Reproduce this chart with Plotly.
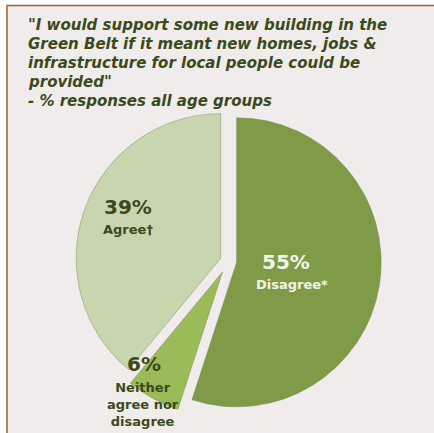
import plotly.graph_objects as go

# ---- data ----
categories = ["Disagree*", "Neither agree nor disagree", "Agree†"]
values = [55, 6, 39]
label_lines = [["Disagree*"], ["Neither", "agree nor", "disagree"], ["Agree†"]]
title_lines = [
    "\"I would support some new building in the",
    "Green Belt if it meant new homes, jobs &",
    "infrastructure for local people could be",
    "provided\"",
    "- % responses all age groups",
]

# ---- styles ----
colors = ["#7f9b48", "#9bbb59", "#c8d6af"]
pulls = [0.057, 0.085, 0.057]
W, H = 434, 433
BG = "#f0ecec"
DARK = "#3b4a1b"

def px(x):
    return x / W

def py(y):
    return 1 - y / H

fig = go.Figure()
fig.add_trace(go.Pie(
    labels=categories,
    values=values,
    sort=False,
    direction="clockwise",
    rotation=0,
    pull=pulls,
    marker=dict(colors=colors, line=dict(color="rgba(110,130,80,0.55)", width=0.8)),
    textinfo="none",
    hoverinfo="label+percent",
    showlegend=False,
    domain=dict(x=[0.1651, 0.8879], y=[0.0338, 0.7606]),
))

annotations = []
# title lines
title_y = [25, 44, 63, 82, 101.5]
for t, yy in zip(title_lines, title_y):
    annotations.append(dict(
        x=px(26), y=py(yy), xref="paper", yref="paper", xanchor="left", yanchor="middle",
        text="<b><i>" + t + "</i></b>", showarrow=False,
        font=dict(family="DejaVu Sans", size=15, color=DARK),
    ))

# slice labels (positions in px)
pct_pos = [(286, 262), (143.5, 364), (128, 207)]
name_pos = [(292, 284), (143, 404), (128, 230)]
txt_colors = ["#f2f2ea", DARK, DARK]
for i in range(len(values)):
    annotations.append(dict(
        x=px(pct_pos[i][0]), y=py(pct_pos[i][1]), xref="paper", yref="paper",
        xanchor="center", yanchor="middle", showarrow=False,
        text="<b>%d%%</b>" % values[i],
        font=dict(family="DejaVu Sans", size=20, color=txt_colors[i]),
    ))
    annotations.append(dict(
        x=px(name_pos[i][0]), y=py(name_pos[i][1]), xref="paper", yref="paper",
        xanchor="center", yanchor="middle", showarrow=False, align="center",
        text="<br>".join("<b>" + s + "</b>" for s in label_lines[i]),
        font=dict(family="DejaVu Sans", size=13, color=txt_colors[i]),
    ))

shapes = [dict(
    type="rect", xref="paper", yref="paper", layer="below",
    x0=px(7), x1=1.1, y0=-0.1, y1=py(5.5),
    fillcolor=BG, line=dict(color="#a0602a", width=1.5),
)]

fig.update_layout(
    width=W, height=H,
    margin=dict(l=0, r=0, t=0, b=0),
    paper_bgcolor="white",
    plot_bgcolor="white",
    annotations=annotations,
    shapes=shapes,
)

fig.write_html(
    "out.html",
    config={"displayModeBar": False},
    post_script="document.body.style.margin='0px';document.body.style.overflow='hidden';",
)
